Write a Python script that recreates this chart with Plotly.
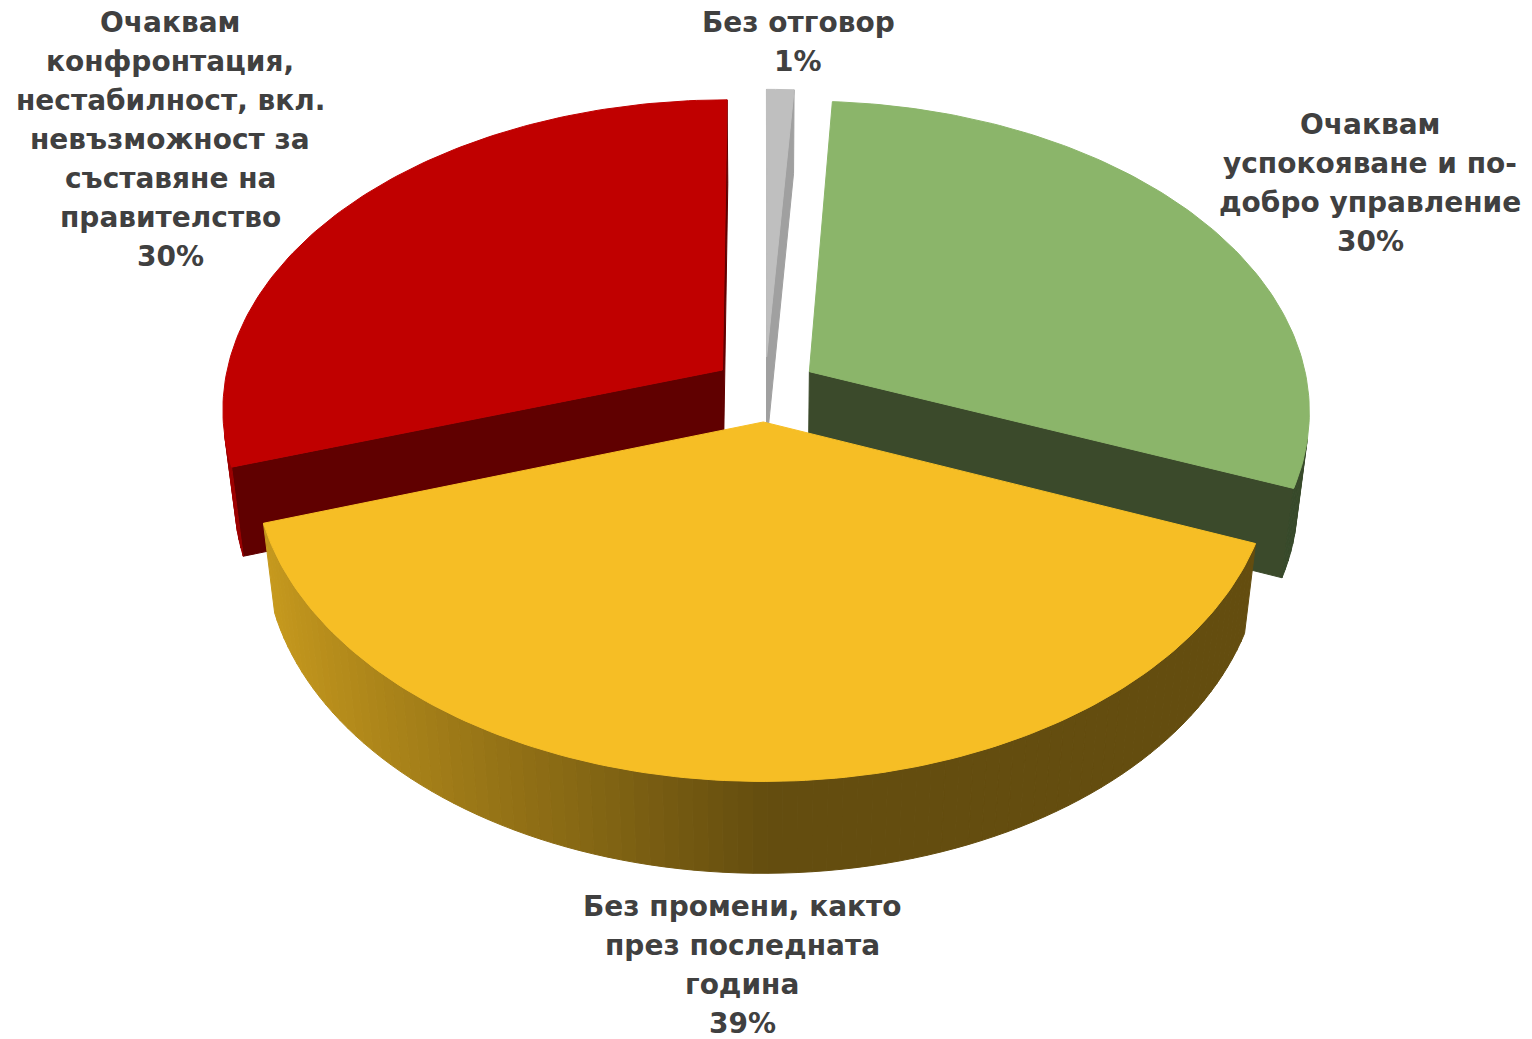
import numpy as np
import plotly.graph_objects as go

# ---------------- data ----------------
categories = [
    "Без отговор",
    "Очаквам успокояване и по-добро управление",
    "Без промени, както през последната година",
    "Очаквам конфронтация, нестабилност, вкл. невъзможност за съставяне на правителство",
]
values = [1, 30, 39, 30]  # percent
label_lines = [
    ["Без отговор"],
    ["Очаквам", "успокояване и по-", "добро управление"],
    ["Без промени, както", "през последната", "година"],
    ["Очаквам", "конфронтация,", "нестабилност, вкл.", "невъзможност за", "съставяне на", "правителство"],
]

# ---------------- styles / layout ----------------
top_colors = ["#BFBFBF", "#8BB56A", "#F6BE25", "#C00000"]
cut_colors = ["#A0A0A0", "#3B4A2B", "#654E0F", "#600000"]
label_pos = [(798, 22), (1370, 124), (742, 906), (170, 22)]  # centre x, first line y (px)
LINE_STEP = 39
TEXT_COLOR = "#404040"
FONT = "DejaVu Sans"
FONT_SIZE = 28

W, H_PX = 1532, 1039
CX, CY = 765.0, 389.0          # screen position of pie centre
FOCAL = 3244.0                 # focal length in px
DIST = 6.5                     # camera distance (pie radii)
PHI = np.radians(38.0)         # elevation
EXPLODE = 0.106
DEPTH = 0.229
S, C = np.sin(PHI), np.cos(PHI)
CAM = np.array([0.0, DIST * S, DIST * C])


def proj(p):
    X, Y, Z = p
    d = DIST - (Y * S + Z * C)
    a = Y * C - Z * S
    return CX + FOCAL * X / d, CY - FOCAL * a / d


def rdir(t):
    return np.array([np.sin(t), 0.0, -np.cos(t)])


def tdir(t):
    return np.array([np.cos(t), 0.0, np.sin(t)])


def hex_scale(hx, k):
    r, g, b = int(hx[1:3], 16), int(hx[3:5], 16), int(hx[5:7], 16)
    return "#%02X%02X%02X" % (min(255, int(r * k)), min(255, int(g * k)), min(255, int(b * k)))


def visible(pts, n):
    cen = np.mean(pts, axis=0)
    return float(np.dot(n, CAM - cen)) > 0


fig = go.Figure()


def add_poly(pts3d, col):
    xy = [proj(p) for p in pts3d]
    xs = [q[0] for q in xy] + [xy[0][0]]
    ys = [q[1] for q in xy] + [xy[0][1]]
    fig.add_trace(go.Scatter(x=xs, y=ys, mode="lines", fill="toself", fillcolor=col,
                             line=dict(color=col, width=1), hoverinfo="skip",
                             showlegend=False))


total = float(sum(values))
slices = []
start = 0.0
for i, v in enumerate(values):
    t1 = np.radians(start)
    t2 = np.radians(start + v / total * 360.0)
    mid = 0.5 * (t1 + t2)
    off = EXPLODE * rdir(mid)
    slices.append((i, t1, t2, off))
    start += v / total * 360.0

down = np.array([0.0, -DEPTH, 0.0])
for i, t1, t2, off in sorted(slices, key=lambda s: s[3][2]):
    # cut faces
    for t, sign in ((t1, -1.0), (t2, 1.0)):
        pts = [off, off + rdir(t), off + rdir(t) + down, off + down]
        n = sign * tdir(t)
        if visible(pts, n):
            add_poly(pts, cut_colors[i])
    # outer wall
    n_steps = max(2, int(np.degrees(t2 - t1) / 1.5))
    ts = np.linspace(t1, t2, n_steps + 1)
    for a, b in zip(ts[:-1], ts[1:]):
        m = 0.5 * (a + b)
        pts = [off + rdir(a), off + rdir(b), off + rdir(b) + down, off + rdir(a) + down]
        if visible(pts, rdir(m)):
            shade = 0.41 + 0.42 * max(0.0, -np.sin(m))
            add_poly(pts, hex_scale(top_colors[i], shade))
    # top face
    arc = np.linspace(t1, t2, max(3, int(np.degrees(t2 - t1)) + 1))
    pts = [off] + [off + rdir(t) for t in arc]
    add_poly(pts, top_colors[i])

# labels
annotations = []
for i, lines in enumerate(label_lines):
    x0, y0 = label_pos[i]
    all_lines = lines + [f"{values[i]}%"]
    for j, txt in enumerate(all_lines):
        annotations.append(dict(x=x0, y=y0 + j * LINE_STEP, xref="x", yref="y", text=txt,
                                showarrow=False, xanchor="center", yanchor="middle",
                                font=dict(family=FONT, size=FONT_SIZE, color=TEXT_COLOR,
                                          weight="bold")))

fig.update_layout(
    width=W, height=H_PX,
    margin=dict(l=0, r=0, t=0, b=0),
    paper_bgcolor="white", plot_bgcolor="white",
    xaxis=dict(range=[0, W], visible=False, fixedrange=True),
    yaxis=dict(range=[H_PX, 0], visible=False, fixedrange=True),
    annotations=annotations,
    showlegend=False,
)

fig.write_html("out.html",
               config={"displayModeBar": False},
               post_script="document.body.style.margin='0';document.documentElement.style.overflow='hidden';")
